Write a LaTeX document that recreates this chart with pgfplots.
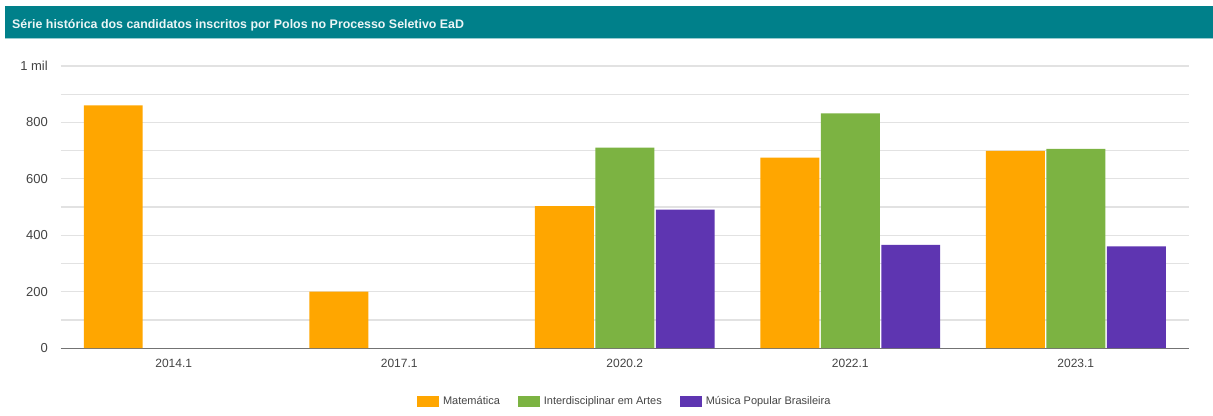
\documentclass[border=0pt]{standalone}
\usepackage{fontspec}
\setmainfont{Liberation Sans}
\usepackage{pgfplots}
\pgfplotsset{compat=1.18}

\definecolor{mat}{RGB}{255,166,0}
\definecolor{art}{RGB}{124,179,66}
\definecolor{mpb}{RGB}{94,53,177}
\definecolor{barbg}{RGB}{0,128,138}
\definecolor{gridc}{RGB}{226,226,226}
\definecolor{txt}{RGB}{68,68,68}

\begin{document}
\begin{tikzpicture}[x=1pt,y=1pt]
% page frame, 1 pt = 1 px of the reference
\path[fill=white] (0,0) rectangle (1213,416);
\fill[barbg] (5,378) rectangle (1213,410);
\draw[barbg!40!white, line width=0.8pt] (5,378) -- (1213,378);
\node[anchor=base west, text=white!92!barbg, inner sep=0pt, font=\fontsize{12.4}{14}\selectfont\bfseries]
  at (12,387) {Série histórica dos candidatos inscritos por Polos no Processo Seletivo EaD};

\begin{axis}[
  at={(61pt,67.7pt)}, anchor=south west,
  scale only axis, width=1128pt, height=282.3pt,
  xmin=-0.5, xmax=4.5, ymin=0, ymax=1000,
  ybar=1.5pt, bar width=59pt,
  axis x line*=bottom, axis y line*=left,
  x axis line style={draw=black!55, line width=1.3pt, -},
  y axis line style={draw=none},
  major tick length=0pt, minor tick length=0pt,
  ytick={0,200,...,1000}, minor ytick={100,300,...,900},
  yticklabels={0,200,400,600,800,1 mil},
  ymajorgrids, yminorgrids,
  grid style={draw=gridc, line width=1.2pt},
  minor grid style={draw=gridc, line width=1.2pt},
  xtick={0,...,4},
  xticklabels={2014.1,2017.1,2020.2,2022.1,2023.1},
  tick label style={text=txt},
  yticklabel style={font=\fontsize{13}{15}\selectfont, inner sep=0pt, anchor=east, xshift=-13pt},
  xticklabel style={font=\fontsize{12}{14}\selectfont, inner sep=0pt, anchor=north, yshift=-11pt},
  legend columns=3,
  legend style={at={(0.5,-0.188)}, anchor=center, draw=none,
    font=\fontsize{11}{13}\selectfont, text=txt,
    /tikz/every odd column/.append style={column sep=2pt},
    /tikz/every even column/.append style={column sep=16pt}},
  legend image code/.code={\fill[#1] (0pt,-5.5pt) rectangle (22pt,5.5pt);},
]
\addplot[fill=mat, draw=none] coordinates {(0,860) (1,200) (2,503) (3,675) (4,699)};
\addplot[fill=art, draw=none] coordinates {(2,711) (3,832) (4,706)};
\addplot[fill=mpb, draw=none] coordinates {(2,491) (3,366) (4,361)};
\legend{Matemática, Interdisciplinar em Artes, Música Popular Brasileira}
\end{axis}
\end{tikzpicture}
\end{document}
